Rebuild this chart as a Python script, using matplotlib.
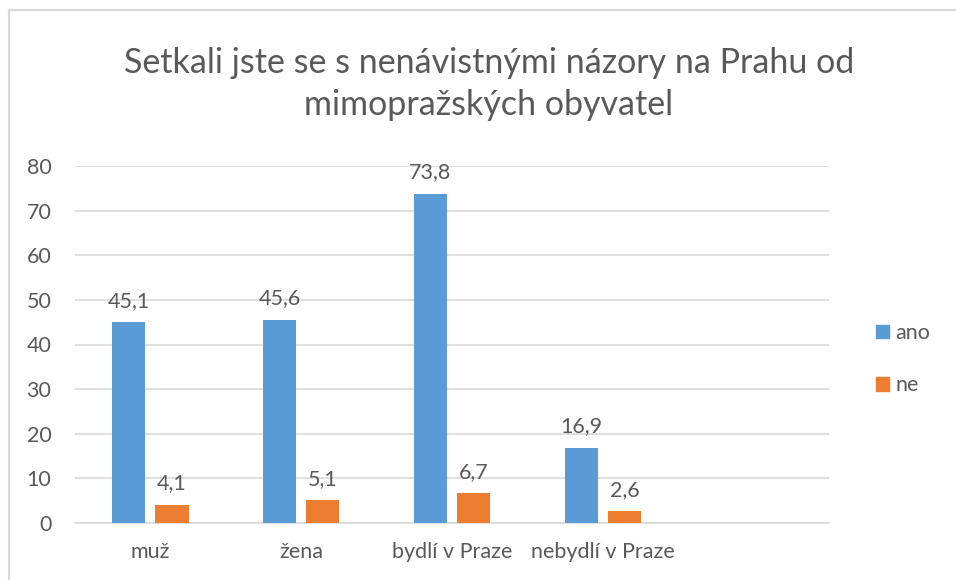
import numpy as np
import matplotlib.pyplot as plt
from matplotlib.patches import Patch
from matplotlib.lines import Line2D

plt.rcParams['font.family'] = ['Lato', 'DejaVu Sans']

categories = ['muž', 'žena', 'bydlí v Praze', 'nebydlí v Praze']
ano = [45.1, 45.6, 73.8, 16.9]
ne = [4.1, 5.1, 6.7, 2.6]
series_names = ['ano', 'ne']
title = 'Setkali jste se s nenávistnými názory na Prahu od\nmimopražských obyvatel'

blue = '#5b9bd5'
orange = '#ed7d31'
text_col = '#595959'
grid_col = '#d9d9d9'
fs = 15.5

fig = plt.figure(figsize=(9.56, 5.8), dpi=100)
ax = fig.add_axes([75 / 956, 1 - 523 / 580, (829 - 75) / 956, (523 - 166) / 580])

x = np.arange(len(categories))
w = 0.22
off = 0.143
b1 = ax.bar(x - off, ano, w, color=blue, zorder=3)
b2 = ax.bar(x + off, ne, w, color=orange, zorder=3)

for bars, vals in ((b1, ano), (b2, ne)):
    for r, v in zip(bars, vals):
        ax.annotate(f'{v:.1f}'.replace('.', ','),
                    (r.get_x() + r.get_width() / 2, r.get_height()),
                    xytext=(0, 8), textcoords='offset points',
                    ha='center', va='bottom', fontsize=fs, color=text_col)

# empty fifth slot like the original sheet
ax.set_xlim(-0.5, 4.5)
ax.set_ylim(0, 80)
ax.set_yticks(range(0, 81, 10))
ax.set_xticks(x)
ax.set_xticklabels(categories)
ax.tick_params(axis='both', length=0, labelsize=fs, labelcolor=text_col)
ax.tick_params(axis='y', pad=17)
ax.tick_params(axis='x', pad=14)
ax.grid(axis='y', color=grid_col, linewidth=1.2, zorder=0)
for s in ('top', 'right', 'left'):
    ax.spines[s].set_visible(False)
ax.spines['bottom'].set_color(grid_col)
ax.spines['bottom'].set_linewidth(1.2)

fig.text(489 / 956, 1 - 84 / 580, title, ha='center', va='center',
         fontsize=24.5, color=text_col, linespacing=1.4)

handles = [Patch(color=blue), Patch(color=orange)]
fig.legend(handles, series_names, loc='upper left',
           bbox_to_anchor=(876 / 956, 1 - 323 / 580), frameon=False,
           fontsize=fs, labelcolor=text_col, handlelength=0.6,
           handleheight=0.6, handletextpad=0.3, labelspacing=1.5,
           borderpad=0, borderaxespad=0)

# chart border
fig.add_artist(Line2D([9 / 956, 9 / 956], [0, 1 - 10 / 580], color=grid_col, lw=1.5))
fig.add_artist(Line2D([9 / 956, 1], [1 - 10 / 580, 1 - 10 / 580], color=grid_col, lw=1.5))

plt.savefig('out.png', dpi=100)
